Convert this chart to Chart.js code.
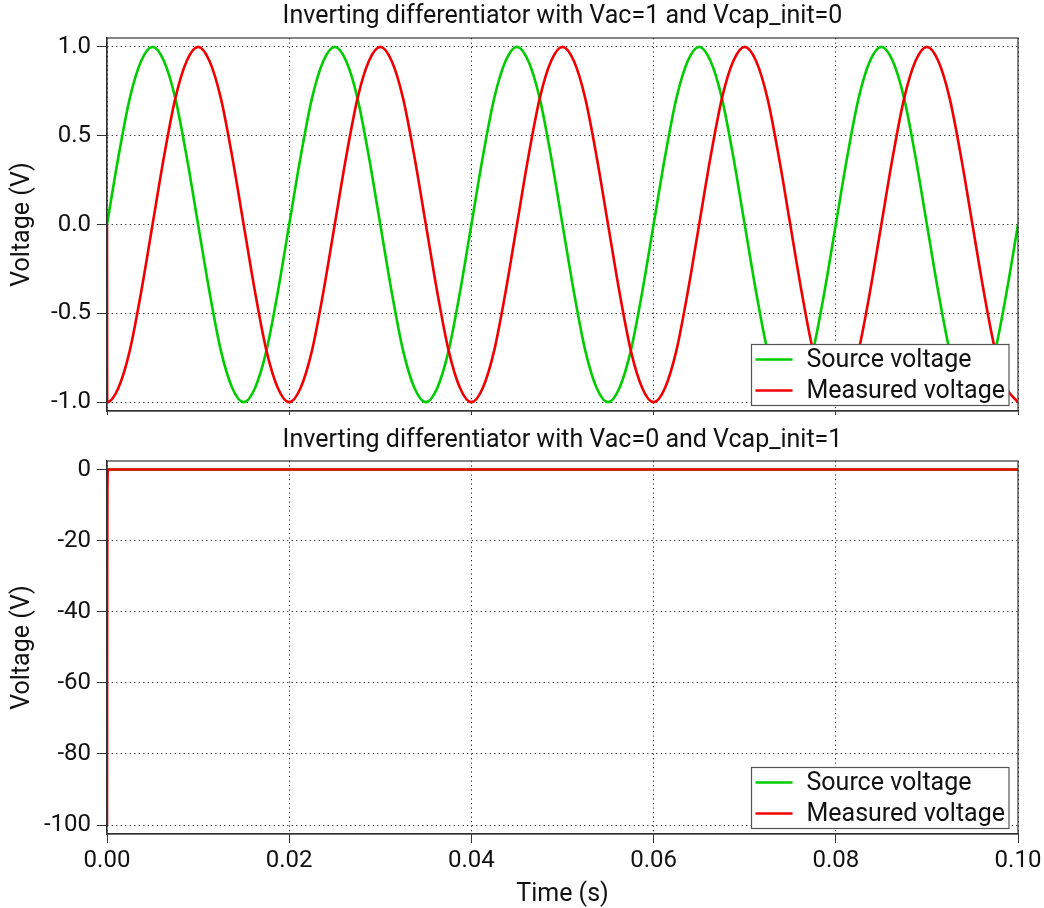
<!DOCTYPE html>
<html>
<head>
<meta charset="utf-8">
<script src="https://cdn.jsdelivr.net/npm/chart.js@4.4.1/dist/chart.umd.min.js"></script>
<style>
  html, body { margin: 0; padding: 0; background: #fff; }
  #wrap { position: relative; width: 1044px; height: 908px; }
  #topChart { position: absolute; left: 0; top: 0; }
  #bottomChart { position: absolute; left: 0; top: 425px; }
</style>
</head>
<body>
<div id="wrap">
  <canvas id="topChart" width="1044" height="425"></canvas>
  <canvas id="bottomChart" width="1044" height="483"></canvas>
</div>
<script>
// Top plot: Vac=1, Vcap_init=0 (samples every 1.25 ms)
const times = [
  0, 0.00125, 0.0025, 0.00375, 0.005, 0.00625, 0.0075, 0.00875,
  0.01, 0.01125, 0.0125, 0.01375, 0.015, 0.01625, 0.0175, 0.01875,
  0.02, 0.02125, 0.0225, 0.02375, 0.025, 0.02625, 0.0275, 0.02875,
  0.03, 0.03125, 0.0325, 0.03375, 0.035, 0.03625, 0.0375, 0.03875,
  0.04, 0.04125, 0.0425, 0.04375, 0.045, 0.04625, 0.0475, 0.04875,
  0.05, 0.05125, 0.0525, 0.05375, 0.055, 0.05625, 0.0575, 0.05875,
  0.06, 0.06125, 0.0625, 0.06375, 0.065, 0.06625, 0.0675, 0.06875,
  0.07, 0.07125, 0.0725, 0.07375, 0.075, 0.07625, 0.0775, 0.07875,
  0.08, 0.08125, 0.0825, 0.08375, 0.085, 0.08625, 0.0875, 0.08875,
  0.09, 0.09125, 0.0925, 0.09375, 0.095, 0.09625, 0.0975, 0.09875,
  0.1
];
const sourceTop = [
  0, 0.38, 0.71, 0.92, 1, 0.92, 0.71, 0.38, 0, -0.38, -0.71, -0.92, -1, -0.92, -0.71, -0.38,
  0, 0.38, 0.71, 0.92, 1, 0.92, 0.71, 0.38, 0, -0.38, -0.71, -0.92, -1, -0.92, -0.71, -0.38,
  0, 0.38, 0.71, 0.92, 1, 0.92, 0.71, 0.38, 0, -0.38, -0.71, -0.92, -1, -0.92, -0.71, -0.38,
  0, 0.38, 0.71, 0.92, 1, 0.92, 0.71, 0.38, 0, -0.38, -0.71, -0.92, -1, -0.92, -0.71, -0.38,
  0, 0.38, 0.71, 0.92, 1, 0.92, 0.71, 0.38, 0, -0.38, -0.71, -0.92, -1, -0.92, -0.71, -0.38,
  0
];
const measuredTop = [
  -1, -0.92, -0.71, -0.38, 0, 0.38, 0.71, 0.92, 1, 0.92, 0.71, 0.38, 0, -0.38, -0.71, -0.92,
  -1, -0.92, -0.71, -0.38, 0, 0.38, 0.71, 0.92, 1, 0.92, 0.71, 0.38, 0, -0.38, -0.71, -0.92,
  -1, -0.92, -0.71, -0.38, 0, 0.38, 0.71, 0.92, 1, 0.92, 0.71, 0.38, 0, -0.38, -0.71, -0.92,
  -1, -0.92, -0.71, -0.38, 0, 0.38, 0.71, 0.92, 1, 0.92, 0.71, 0.38, 0, -0.38, -0.71, -0.92,
  -1, -0.92, -0.71, -0.38, 0, 0.38, 0.71, 0.92, 1, 0.92, 0.71, 0.38, 0, -0.38, -0.71, -0.92,
  -1
];
const measuredTopStart = 0;      // value at t=0 before the step down to -1

// Bottom plot: Vac=0, Vcap_init=1
const sourceBottomTimes = [0, 0.1];
const sourceBottom = [0, 0];
const measuredBottomTimes = [0, 0.00002, 0.00005, 0.0001, 0.1];
const measuredBottom = [-100, -30, -5, 0, 0];

// Tick labels
const xTicks = [0, 0.02, 0.04, 0.06, 0.08, 0.1];
const topYTicks = [-1, -0.5, 0, 0.5, 1];
const bottomYTicks = [-100, -80, -60, -40, -20, 0];

const GREEN = '#00cc00';
const RED = '#f00000';
const FONT = 'Roboto';

Chart.defaults.font.family = FONT;
Chart.defaults.color = '#111';

const toPoints = (xs, ys) => xs.map((x, i) => ({x: x, y: ys[i]}));

// frame round the plot area + legend box in the lower right corner
const frameLegend = {
  id: 'frameLegend',
  afterDraw(chart) {
    const {ctx, chartArea: a} = chart;
    ctx.save();
    ctx.strokeStyle = '#333';
    ctx.lineWidth = 1.2;
    ctx.strokeRect(a.left, a.top, a.right - a.left, a.bottom - a.top);

    ctx.font = '25px ' + FONT;
    const sets = chart.data.datasets;
    const textW = Math.max(...sets.map(d => ctx.measureText(d.label).width));
    const w = 55 + textW + 4;
    const h = 61;
    const x = a.right - 9 - w;
    const y = a.bottom - 5.5 - h;
    ctx.fillStyle = '#fff';
    ctx.fillRect(x, y, w, h);
    ctx.strokeStyle = '#555';
    ctx.lineWidth = 1.2;
    ctx.strokeRect(x, y, w, h);
    sets.forEach((d, i) => {
      const cy = y + 15 + i * 31;
      ctx.strokeStyle = d.borderColor;
      ctx.lineWidth = 2.6;
      ctx.beginPath();
      ctx.moveTo(x + 4, cy);
      ctx.lineTo(x + 41, cy);
      ctx.stroke();
      ctx.fillStyle = '#111';
      ctx.textBaseline = 'middle';
      ctx.textAlign = 'left';
      ctx.fillText(d.label, x + 55, cy + 1);
    });
    ctx.restore();
  }
};

const gridOpts = (tickLen) => ({
  color: '#222',
  lineWidth: 1,
  tickBorderDash: [],
  tickColor: '#333',
  tickLength: tickLen
});
const borderOpts = {
  color: '#333',
  width: 1.2,
  dash: [1.2, 3.3]
};

function makeOptions(title, titlePad, yMin, yMax, yTicks, yFmt, showX, xHeight) {
  return {
    responsive: false,
    animation: false,
    devicePixelRatio: 1,
    layout: { padding: { left: 0, right: 26, top: 0, bottom: 0 } },
    elements: { point: { radius: 0 } },
    plugins: {
      legend: { display: false },
      tooltip: { enabled: false },
      title: {
        display: true,
        text: title,
        fullSize: false,
        font: { size: 25, weight: 'normal' },
        padding: titlePad
      }
    },
    scales: {
      x: {
        type: 'linear',
        min: 0,
        max: 0.1,
        border: borderOpts,
        grid: gridOpts(showX ? 9 : 4),
        afterBuildTicks: s => { s.ticks = xTicks.map(v => ({value: v})); },
        afterFit: s => { s.height = xHeight; s.paddingLeft = 0; s.paddingRight = 0; },
        ticks: {
          display: showX,
          autoSkip: false,
          maxRotation: 0,
          padding: 4,
          font: { size: 24 },
          callback: v => v.toFixed(2)
        },
        title: {
          display: showX,
          text: 'Time (s)',
          font: { size: 25 },
          padding: { top: 0, bottom: -2 }
        }
      },
      y: {
        min: yMin,
        max: yMax,
        border: borderOpts,
        grid: gridOpts(10),
        afterBuildTicks: s => { s.ticks = yTicks.map(v => ({value: v})); },
        afterFit: s => { s.width = 107; s.paddingTop = 0; s.paddingBottom = 0; },
        ticks: {
          padding: 6,
          font: { size: 24 },
          callback: yFmt
        },
        title: {
          display: true,
          text: 'Voltage (V)',
          font: { size: 25 },
          padding: { top: 8, bottom: 0 }
        }
      }
    }
  };
}

const lineStyle = (color) => ({
  borderColor: color,
  backgroundColor: color,
  borderWidth: 2.6,
  fill: false,
  cubicInterpolationMode: 'monotone'
});

new Chart(document.getElementById('topChart').getContext('2d'), {
  type: 'line',
  data: {
    datasets: [
      Object.assign({
        label: 'Source voltage',
        data: toPoints(times, sourceTop),
        order: 1
      }, lineStyle(GREEN)),
      Object.assign({
        label: 'Measured voltage',
        data: [{x: 0, y: measuredTopStart}].concat(
          toPoints(times, measuredTop).map((p, i) => i === 0 ? {x: 0.00002, y: p.y} : p)),
        order: 0
      }, lineStyle(RED))
    ]
  },
  options: makeOptions('Inverting differentiator with Vac=1 and Vcap_init=0', {top: 2, bottom: 6},
    -1.05, 1.05, topYTicks, v => v.toFixed(1), false, 14),
  plugins: [frameLegend]
});

new Chart(document.getElementById('bottomChart').getContext('2d'), {
  type: 'line',
  data: {
    datasets: [
      Object.assign({
        label: 'Source voltage',
        data: toPoints(sourceBottomTimes, sourceBottom),
        order: 1
      }, lineStyle(GREEN)),
      Object.assign({
        label: 'Measured voltage',
        data: toPoints(measuredBottomTimes, measuredBottom),
        order: 0
      }, lineStyle(RED))
    ]
  },
  options: makeOptions('Inverting differentiator with Vac=0 and Vcap_init=1', {top: 1, bottom: 5},
    -102.5, 2.4, bottomYTicks, v => String(v), true, 74),
  plugins: [frameLegend]
});
</script>
</body>
</html>
